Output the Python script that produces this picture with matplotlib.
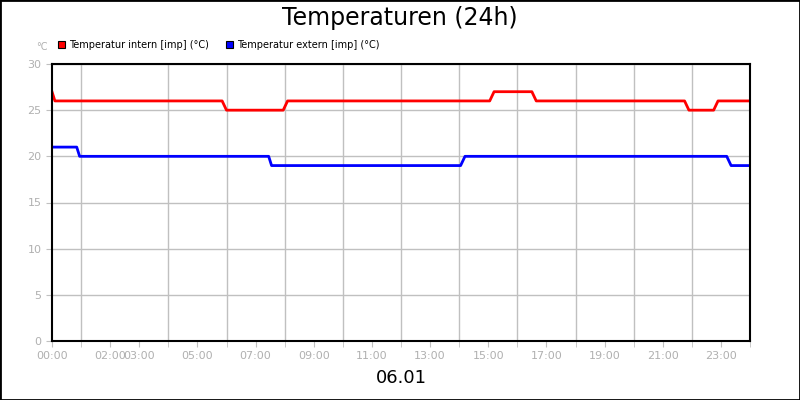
import matplotlib
matplotlib.use("Agg")
import matplotlib.pyplot as plt
from matplotlib.patches import Rectangle

# hours since 00:00, values in degC
t_intern = [0.0, 0.1, 5.85, 6.0, 7.95, 8.1, 15.05, 15.2, 16.5, 16.65, 21.75, 21.9, 22.75, 22.9, 24.0]
v_intern = [27, 26, 26, 25, 25, 26, 26, 27, 27, 26, 26, 25, 25, 26, 26]
t_extern = [0.0, 0.85, 0.95, 7.45, 7.55, 14.05, 14.2, 23.2, 23.35, 24.0]
v_extern = [21, 21, 20, 20, 19, 19, 20, 20, 19, 19]
tick_hours = [0, 2, 3, 5, 7, 9, 11, 13, 15, 17, 19, 21, 23]
tick_labels = ["%02d:00" % h for h in tick_hours]

W, H = 800, 400
fig = plt.figure(figsize=(8, 4), dpi=100)
fig.patches.append(Rectangle((0, 0), 1, 1, transform=fig.transFigure, fill=False,
                             edgecolor="black", linewidth=2))
ax = fig.add_axes([52 / W, 1 - 341 / H, (750 - 52) / W, (341 - 64) / H])

ax.plot(t_intern, v_intern, color="#ff0000", linewidth=2)
ax.plot(t_extern, v_extern, color="#0000ff", linewidth=2)

ax.set_xlim(0, 24)
ax.set_ylim(0, 30)
ax.set_yticks(range(0, 31, 5))
ax.set_xticks(range(0, 25), minor=True)
ax.set_xticks(tick_hours)
ax.set_xticklabels(tick_labels)
ax.grid(True, which="minor", axis="x", color="#c0c0c0", linewidth=1)
ax.grid(False, which="major", axis="x")
ax.grid(True, which="major", axis="y", color="#c0c0c0", linewidth=1)
ax.set_axisbelow(True)
ax.tick_params(colors="#c0c0c0", labelcolor="#b0b0b0", labelsize=8, length=4, which="both")
for s in ax.spines.values():
    s.set_color("black")
    s.set_linewidth(1.5)

fig.text(0.5, 1 - 18 / H, "Temperaturen (24h)", ha="center", va="center", fontsize=17)
fig.text(42 / W, 1 - 47 / H, "°C", ha="center", va="center", fontsize=7, color="#b0b0b0")
fig.text(401 / W, 1 - 378 / H, "06.01", ha="center", va="center", fontsize=13)

for x0, col, lab in [(58, "#ff0000", "Temperatur intern [imp] (°C)"),
                     (226, "#0000ff", "Temperatur extern [imp] (°C)")]:
    fig.patches.append(Rectangle((x0 / W, 1 - 48 / H), 7 / W, 7 / H, transform=fig.transFigure,
                                 facecolor=col, edgecolor="black", linewidth=0.8))
    fig.text((x0 + 11) / W, 1 - 44.5 / H, lab, va="center", fontsize=7)

fig.savefig("out.png", dpi=100)
